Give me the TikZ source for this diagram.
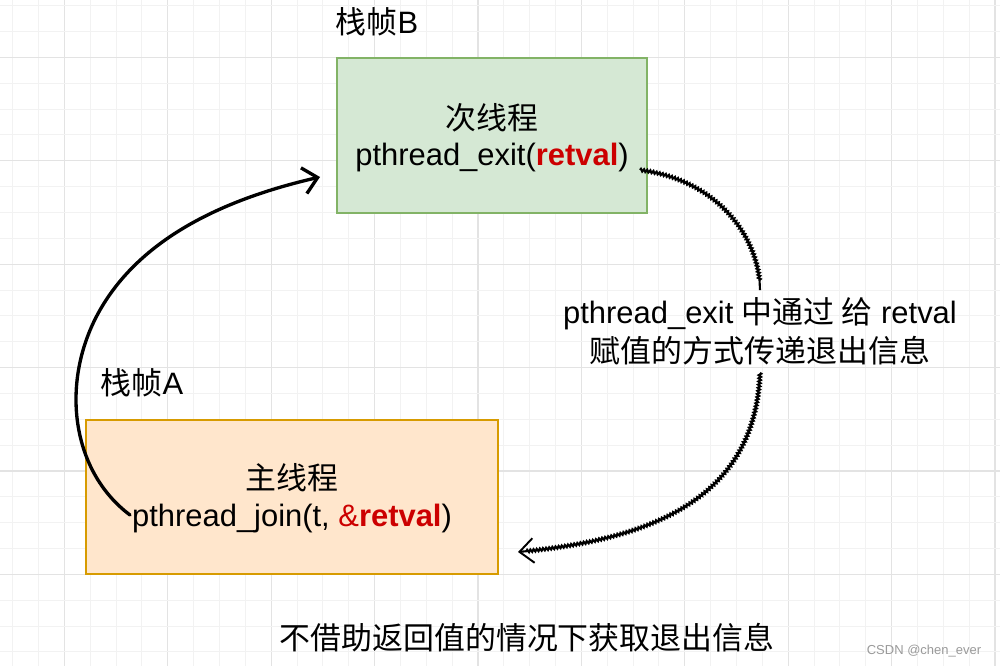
\documentclass[tikz,border=0pt]{standalone}
\usepackage{fontspec}
\setmainfont{Liberation Sans}
\newfontfamily\cjk{Noto Sans CJK SC}
\usetikzlibrary{arrows.meta,decorations.pathmorphing}
\definecolor{gfill}{HTML}{D5E8D4}
\definecolor{gline}{HTML}{82B366}
\definecolor{ofill}{HTML}{FFE6CC}
\definecolor{oline}{HTML}{D79B00}
\definecolor{redtxt}{HTML}{CC0000}
\definecolor{minorg}{HTML}{F2F2F2}
\definecolor{majorg}{HTML}{E3E3E3}
\definecolor{wm}{HTML}{9A9A9A}
\tikzset{
  minorline/.style={draw=minorg, line width=0.6pt},
  majorline/.style={draw=majorg, line width=0.7pt},
  boxg/.style={draw=gline, fill=gfill, line width=1.1pt, minimum width=6.2cm, minimum height=3.1cm, inner sep=0pt},
  boxo/.style={draw=oline, fill=ofill, line width=1.1pt, minimum width=8.24cm, minimum height=3.08cm, inner sep=0pt},
  txt/.style={inner sep=0pt, font=\fontsize{17.6pt}{22pt}\selectfont, align=center},
  small/.style={inner sep=0pt, font=\fontsize{7.4pt}{9pt}\selectfont, text=wm},
  solidarrow/.style={line width=1.9pt, line cap=round, -{Straight Barb[length=8pt,width=15pt,line width=1.9pt]}},
  wavy/.style={line width=1.2pt, decorate, decoration={zigzag, amplitude=0.7pt, segment length=1.8pt, post length=5pt}},
  wavyarrow/.style={wavy, -{Straight Barb[length=8pt,width=14pt,line width=1.1pt]}},
}
\begin{document}
\begin{tikzpicture}[x=0.02cm,y=-0.02cm]
\useasboundingbox (0,0) rectangle (1000,666);
\fill[white] (0,0) rectangle (1000,666);
% grid
\foreach \i in {0,...,38} {
  \pgfmathtruncatemacro{\m}{mod(\i,4)}
  \ifnum\m=2
    \draw[majorline] ({12.7+25.85*\i},0) -- ({12.7+25.85*\i},666);
  \else
    \draw[minorline] ({12.7+25.85*\i},0) -- ({12.7+25.85*\i},666);
  \fi
}
\foreach \i in {0,...,25} {
  \pgfmathtruncatemacro{\m}{mod(\i,4)}
  \ifnum\m=2
    \draw[majorline] (0,{5.7+25.85*\i}) -- (1000,{5.7+25.85*\i});
  \else
    \draw[minorline] (0,{5.7+25.85*\i}) -- (1000,{5.7+25.85*\i});
  \fi
}
% boxes
\node[boxg] (B) at (492,135.5) {};
\node[boxo] (A) at (292,497) {};
\node[txt] (Btitle) at (492,118) {\cjk 次线程};
\node[txt] (Bcall) at (492,158) {pthread\_exit(\textcolor{redtxt}{\bfseries retval})};
\node[txt] (Atitle) at (292,478) {\cjk 主线程};
\node[txt] (Acall) at (292,518) {pthread\_join(t, \textcolor{redtxt}{\&\bfseries retval})};
% frame labels
\node[txt] (lblB) at (377,22) {{\cjk 栈帧}B};
\node[txt] (lblA) at (142,383) {{\cjk 栈帧}A};
% middle label
\node[txt, minimum width=7.9cm, minimum height=1.64cm] (mid) at (760,331.5) {pthread\_exit {\cjk 中通过 给} retval\\{\cjk 赋值的方式传递退出信息}};
% bottom caption
\node[txt] (cap) at (527,638) {\cjk 不借助返回值的情况下获取退出信息};
\node[small] (wm) at (924,651) {CSDN @chen\_ever};
% connectors
\coordinate (js) at (130,515);
\coordinate (je) at (320,177);
\draw[solidarrow] (js) .. controls (70,470) and (60,380) .. (100,310)
  .. controls (140,240) and (220,200) .. (je);
\coordinate (es) at (640,170);
\coordinate (ee) at (518,552);
\draw[wavy] (es) .. controls (720,180) and (760,240) .. (mid.north);
\draw[wavyarrow] (mid.south) .. controls (755,500) and (650,540) .. (ee);
\end{tikzpicture}
\end{document}
